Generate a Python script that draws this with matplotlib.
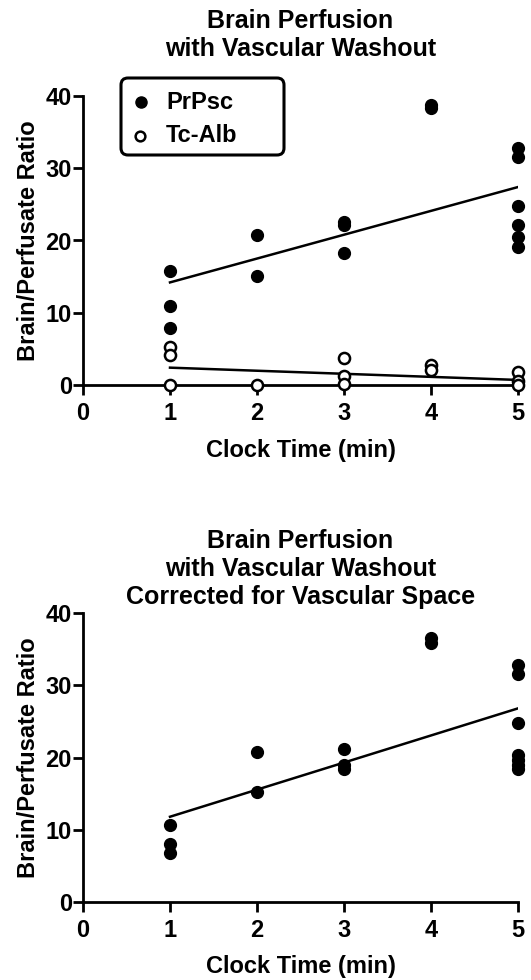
import numpy as np
import matplotlib.pyplot as plt
from matplotlib.lines import Line2D
from matplotlib.patches import FancyBboxPatch

plt.rcParams['font.family'] = ['Liberation Sans', 'DejaVu Sans']
plt.rcParams['font.weight'] = 'bold'

# top panel: raw ratios
prpsc_x = [1, 1, 1, 2, 2, 3, 3, 3, 4, 4, 5, 5, 5, 5, 5, 5]
prpsc_y = [15.8, 10.9, 7.9, 20.8, 15.1, 22.5, 22.1, 18.3, 38.8, 38.4,
           32.8, 31.5, 24.8, 22.1, 20.5, 19.1]
alb_x = [1, 1, 1, 2, 3, 3, 3, 4, 4, 5, 5, 5]
alb_y = [5.3, 4.2, 0.0, 0.0, 3.7, 1.2, 0.1, 2.8, 2.1, 1.8, 0.5, 0.0]
prpsc_fit = [14.2, 27.4]   # fitted line at x=1 and x=5
alb_fit = [2.4, 0.7]

# bottom panel: corrected for vascular space
corr_x = [1, 1, 1, 2, 2, 3, 3, 3, 4, 4, 5, 5, 5, 5, 5, 5, 5]
corr_y = [10.7, 8.0, 6.8, 20.8, 15.2, 21.2, 19.0, 18.4, 36.6, 35.9,
          32.8, 31.6, 24.8, 20.4, 19.7, 19.0, 18.4]
corr_fit = [11.8, 26.8]
fit_x = [1, 5]

TITLE_TOP = 'Brain Perfusion\nwith Vascular Washout'
TITLE_BOTTOM = 'Brain Perfusion\nwith Vascular Washout\nCorrected for Vascular Space'
XLABEL = 'Clock Time (min)'
YLABEL = 'Brain/Perfusate Ratio'
LEGEND = ['PrPsc', 'Tc-Alb']
FS_TITLE = 18
FS = 17

W, H = 531, 980
fig = plt.figure(figsize=(W / 100, H / 100), dpi=100)
LEFT, RIGHT = 83, 518


def px(x, y):
    # pixel position from top-left -> inches for dpi_scale_trans
    return x / 100, (H - y) / 100


def make_axes(top, bottom):
    return fig.add_axes([LEFT / W, 1 - bottom / H, (RIGHT - LEFT) / W, (bottom - top) / H])


def style(ax, xlabel_y):
    ax.set_xlim(0, 5)
    ax.set_ylim(0, 40)
    for s in ['top', 'right']:
        ax.spines[s].set_visible(False)
    for s in ['left', 'bottom']:
        ax.spines[s].set_linewidth(2)
    ax.tick_params(direction='out', width=2, length=7, labelsize=FS)
    ax.tick_params(axis='x', pad=5)
    ax.tick_params(axis='y', pad=1)
    ax.set_xticks(range(6))
    ax.set_yticks([0, 10, 20, 30, 40])
    for lab in ax.get_xticklabels() + ax.get_yticklabels():
        lab.set_fontweight('bold')
    fig.text((LEFT + RIGHT) / 2 / W, 1 - xlabel_y / H, XLABEL, fontsize=FS,
             fontweight='bold', ha='center', va='center')
    ax.set_ylabel(YLABEL, fontsize=FS, fontweight='bold', labelpad=4)


ax1 = make_axes(96, 385)
ax1.plot(prpsc_x, prpsc_y, 'o', color='black', ms=8.5, clip_on=False, zorder=3)
ax1.plot(alb_x, alb_y, 'o', mfc='white', mec='black', mew=1.8, ms=8, clip_on=False, zorder=3)
ax1.plot(fit_x, prpsc_fit, color='black', lw=1.8)
ax1.plot(fit_x, alb_fit, color='black', lw=1.8)
style(ax1, 450)
fig.text((LEFT + RIGHT) / 2 / W, 1 - 35 / H, TITLE_TOP, fontsize=FS_TITLE,
         fontweight='bold', ha='center', va='center', linespacing=1.2)

# legend box drawn by hand (GraphPad style, wide rounded frame)
x0, y0 = px(121, 155)
box = FancyBboxPatch((x0, y0), 1.63, 0.77, boxstyle='round,pad=0,rounding_size=0.07',
                     transform=fig.dpi_scale_trans, fc='white', ec='black', lw=2.2, zorder=5)
fig.add_artist(box)
fig.add_artist(Line2D([px(141, 102)[0]], [px(141, 102)[1]], transform=fig.dpi_scale_trans,
                      ls='', marker='o', color='black', ms=8, zorder=6))
fig.add_artist(Line2D([px(140, 136)[0]], [px(140, 136)[1]], transform=fig.dpi_scale_trans,
                      ls='', marker='o', mfc='white', mec='black', mew=1.8, ms=7, zorder=6))
for label, ly in zip(LEGEND, [102, 135]):
    tx, ty = px(166, ly)
    fig.text(tx, ty, label, transform=fig.dpi_scale_trans, fontsize=FS,
             fontweight='bold', ha='left', va='center', zorder=6)

ax2 = make_axes(613, 902)
ax2.plot(corr_x, corr_y, 'o', color='black', ms=8.5, clip_on=False, zorder=3)
ax2.plot(fit_x, corr_fit, color='black', lw=1.8)
style(ax2, 966)
fig.text((LEFT + RIGHT) / 2 / W, 1 - 569 / H, TITLE_BOTTOM, fontsize=FS_TITLE,
         fontweight='bold', ha='center', va='center', linespacing=1.2)

fig.savefig('out.png', dpi=100)
